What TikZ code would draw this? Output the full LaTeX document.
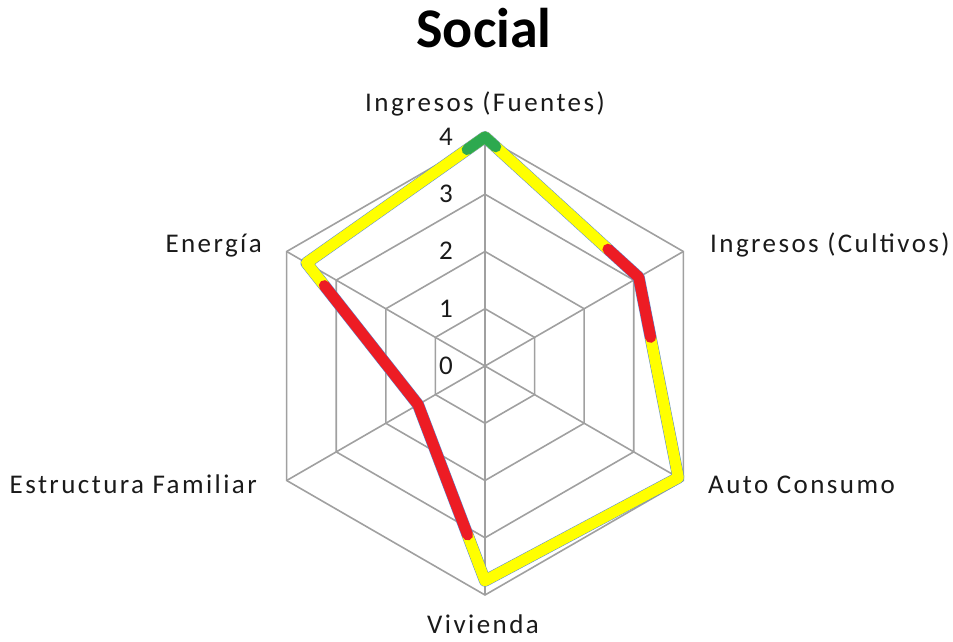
\documentclass[tikz,border=0pt]{standalone}
\usepackage{fontspec}
\setmainfont{Carlito}
\usetikzlibrary{calc}
\definecolor{gridGray}{HTML}{A0A0A0}
\definecolor{seriesYellow}{HTML}{FFFF00}
\definecolor{seriesRed}{HTML}{ED1C24}
\definecolor{seriesGreen}{HTML}{2DA94F}
\definecolor{seriesBlue}{HTML}{5B8BD0}
\definecolor{textDark}{HTML}{1A1A1A}
\newcommand{\radarPoint}[3]{%
  \coordinate (#1) at (#2:{#3*\unitLen});
}

\begin{document}
\begin{tikzpicture}[%
  x=1pt,y=1pt,
  gridStyle/.style={draw=gridGray,line width=1.6pt},
  dataStyle/.style={line width=11pt,line join=round,line cap=round},
  labelStyle/.style={font=\fontsize{27}{31}\selectfont\addfontfeature{LetterSpace=9},text=textDark,inner sep=0pt},
  tickStyle/.style={font=\fontsize{27}{31}\selectfont,text=textDark,inner sep=0pt,anchor=mid east},
  titleStyle/.style={font=\fontsize{56}{60}\selectfont\bfseries,text=black,inner sep=0pt,anchor=base}
]
%
\pgfmathsetmacro{\unitLen}{57.25}  % one ring, 229/4
\coordinate (centre) at (0,0);
\useasboundingbox (-485,-276) rectangle (468,366);
%
% The grid: rings and spokes.
\foreach \ring in {1,...,4}{
  \draw[gridStyle] (90:{\ring*\unitLen}) -- (30:{\ring*\unitLen}) -- (-30:{\ring*\unitLen})
    -- (-90:{\ring*\unitLen}) -- (210:{\ring*\unitLen}) -- (150:{\ring*\unitLen}) -- cycle;
}
\foreach \ang in {90,30,-30,-90,210,150}{
  \draw[gridStyle] (centre) -- (\ang:{4*\unitLen});
}
% Axis values.
\foreach \val in {0,...,4}{
  \node[tickStyle] (tick\val) at (-32,{\val*\unitLen-6}) {\val};
}
%
% Values of the series.
\radarPoint{fuentes}{90}{4}
\radarPoint{cultivos}{30}{3.1}
\radarPoint{consumo}{-30}{3.9}
\radarPoint{vivienda}{-90}{3.75}
\radarPoint{familiar}{210}{1.35}
\radarPoint{energia}{150}{3.6}
% Where the colour changes.
\coordinate (sOne) at ($(fuentes)!0.8!(cultivos)$);
\coordinate (sTwo) at ($(cultivos)!0.3!(consumo)$);
\coordinate (sThree) at ($(vivienda)!0.26!(familiar)$);
\coordinate (sFour) at ($(familiar)!0.84!(energia)$);
%
% The series, thin blue one first.
\draw[dataStyle,seriesBlue,line width=12pt] (fuentes) -- (cultivos) -- (consumo) -- (vivienda)
  -- (familiar) -- (energia) -- cycle;
\draw[dataStyle,seriesYellow] (sFour) -- (energia) -- (fuentes) -- (sOne);
\draw[dataStyle,seriesYellow] (sTwo) -- (consumo) -- (vivienda) -- (sThree);
\draw[dataStyle,seriesRed] (sOne) -- (cultivos) -- (sTwo);
\draw[dataStyle,seriesRed] (sThree) -- (familiar) -- (sFour);
\draw[dataStyle,seriesGreen] ($(fuentes)!0.1!(energia)$) -- (fuentes) -- ($(fuentes)!0.07!(cultivos)$);
%
% Category names and title.
\node[labelStyle,anchor=base] (lblFuentes) at (0,254) {Ingresos (Fuentes)};
\node[labelStyle,anchor=base west] (lblCultivos) at (225,113) {Ingresos (Cultivos)};
\node[labelStyle,anchor=base west] (lblConsumo) at (223,-127) {Auto Consumo};
\node[labelStyle,anchor=base] (lblVivienda) at (-2,-267) {Vivienda};
\node[labelStyle,anchor=base east] (lblFamiliar) at (-228,-127) {Estructura Familiar};
\node[labelStyle,anchor=base east] (lblEnergia) at (-223,113) {Energía};
\node[titleStyle] (title) at (-1,318) {Social};
\end{tikzpicture}
\end{document}
